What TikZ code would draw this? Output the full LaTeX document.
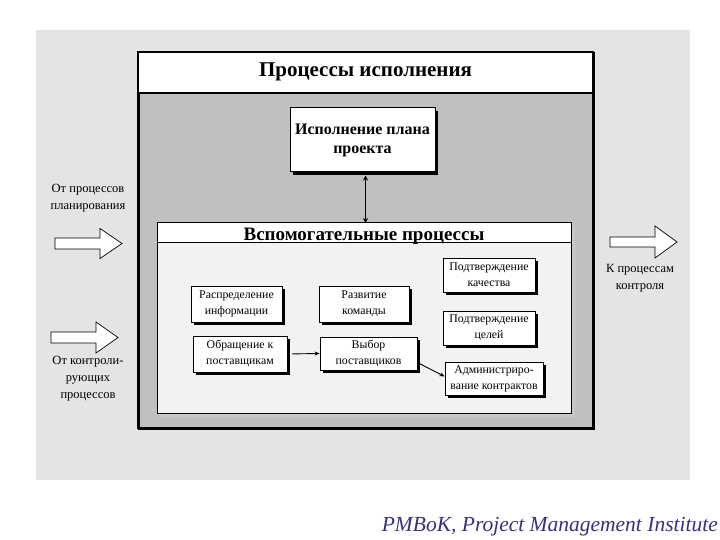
\documentclass[tikz,border=0pt]{standalone}
\usepackage{fontspec}
\setmainfont{Liberation Serif}
\usetikzlibrary{shadows,arrows.meta,calc}
\definecolor{bglight}{HTML}{E4E4E4}
\definecolor{maingray}{HTML}{C0C0C0}
\definecolor{suppfill}{HTML}{F2F2F2}
\definecolor{credit}{HTML}{33337F}
\tikzset{
  shbox/.style={draw, fill=white, line width=0.8pt, align=center, inner sep=0pt,
    font=\fontsize{11.8}{16}\selectfont,
    drop shadow={opacity=1, fill=black, shadow xshift=3pt, shadow yshift=-3pt}},
  sidetext/.style={align=center, inner sep=0pt, font=\fontsize{12.5}{17}\selectfont},
  blockarrow/.style={draw=black, fill=white, line width=0.7pt, line join=miter},
  conn/.style={line width=0.9pt, -{Stealth[length=5pt,width=4pt]}}
}
\begin{document}
\begin{tikzpicture}[x=1pt,y=-1pt]
\useasboundingbox (0,0) rectangle (720,540);
\fill[white] (0,0) rectangle (720,540);
% light background panel
\fill[bglight] (36,30) rectangle (690,480);
% main box
\node[draw, line width=1.6pt, fill=maingray, minimum width=455pt, minimum height=376pt, anchor=north west, inner sep=0pt] (main) at (138,52) {};
\fill[white] (138,52) rectangle (593,93);
\draw[line width=1.6pt] (138,52) rectangle (593,428);
\draw[line width=1.6pt] (138,93) -- (593,93);
\node[font=\bfseries\fontsize{21}{24}\selectfont, inner sep=0pt] (title) at (365.5,72) {Процессы исполнения};
% plan box
\node[shbox, line width=1pt, font=\bfseries\fontsize{16}{19}\selectfont, minimum width=145pt, minimum height=64pt] (plan) at (362.5,140) {Исполнение плана\\проекта};
% support box
\fill[black!22] (160,226) rectangle (575,417);
\node[draw, line width=1pt, fill=suppfill, minimum width=414pt, minimum height=190pt, anchor=north west, inner sep=0pt] (supp) at (157,223) {};
\fill[white] (157,223) rectangle (571,242);
\draw[line width=1pt] (157,223) rectangle (571,413);
\draw[line width=1pt] (157,242) -- (571,242);
\node[font=\bfseries\fontsize{19}{22}\selectfont, inner sep=0pt] (supptitle) at (364,236) {Вспомогательные процессы};
% double arrow
\draw[line width=1.6pt, {Stealth[length=5pt,width=5pt]}-{Stealth[length=5pt,width=5pt]}]
  ([xshift=3pt,yshift=-3pt]plan.south) -- ([xshift=3pt]plan.south |- supp.north);
% small boxes
\node[shbox, minimum width=91pt, minimum height=36pt] (dist) at (236.5,304) {Распределение\\информации};
\node[shbox, minimum width=90pt, minimum height=36pt] (team) at (364,304) {Развитие\\команды};
\node[shbox, minimum width=94pt, minimum height=36pt] (appeal) at (240,354) {Обращение к\\поставщикам};
\node[shbox, minimum width=97pt, minimum height=33pt] (choice) at (368.5,353.5) {Выбор\\поставщиков};
\node[shbox, minimum width=92pt, minimum height=34pt] (qual) at (489,275) {Подтверждение\\качества};
\node[shbox, minimum width=92pt, minimum height=34pt] (goals) at (489,328) {Подтверждение\\целей};
\node[shbox, minimum width=98pt, minimum height=33pt] (admin) at (494,378.5) {Администриро-\\вание контрактов};
% connectors
\draw[conn, shorten <=5pt] (appeal.east) -- (choice.west);
\draw[conn] ($(choice.east)+(0,9)$) -- ($(admin.west)+(0,-2)$);
% side texts
\node[sidetext] (fromplan) at (88,198.5) {От процессов\\планирования};
\node[sidetext] (fromctrl) at (88,379) {От контроли-\\рующих\\процессов};
\node[sidetext] (toctrl) at (640,278.5) {К процессам\\контроля};
% block arrows
\coordinate (a1) at (55,243.5);
\draw[blockarrow] (a1) ++(0,-5.5) -- ++(45,0) -- ++(0,-9.5) -- ++(22,15) -- ++(-22,15) -- ++(0,-9.5) -- ++(-45,0) -- cycle;
\coordinate (a2) at (51,337.5);
\draw[blockarrow] (a2) ++(0,-5.5) -- ++(45,0) -- ++(0,-10) -- ++(22,15.5) -- ++(-22,15.5) -- ++(0,-10) -- ++(-45,0) -- cycle;
\coordinate (a3) at (610,242);
\draw[blockarrow] (a3) ++(0,-5) -- ++(45,0) -- ++(0,-11) -- ++(22,16) -- ++(-22,16) -- ++(0,-11) -- ++(-45,0) -- cycle;
% credit
\node[font=\itshape\fontsize{21.5}{24}\selectfont, text=credit, anchor=east, inner sep=0pt] (credit) at (718,527) {PMBoK, Project Management Institute};
\end{tikzpicture}
\end{document}
